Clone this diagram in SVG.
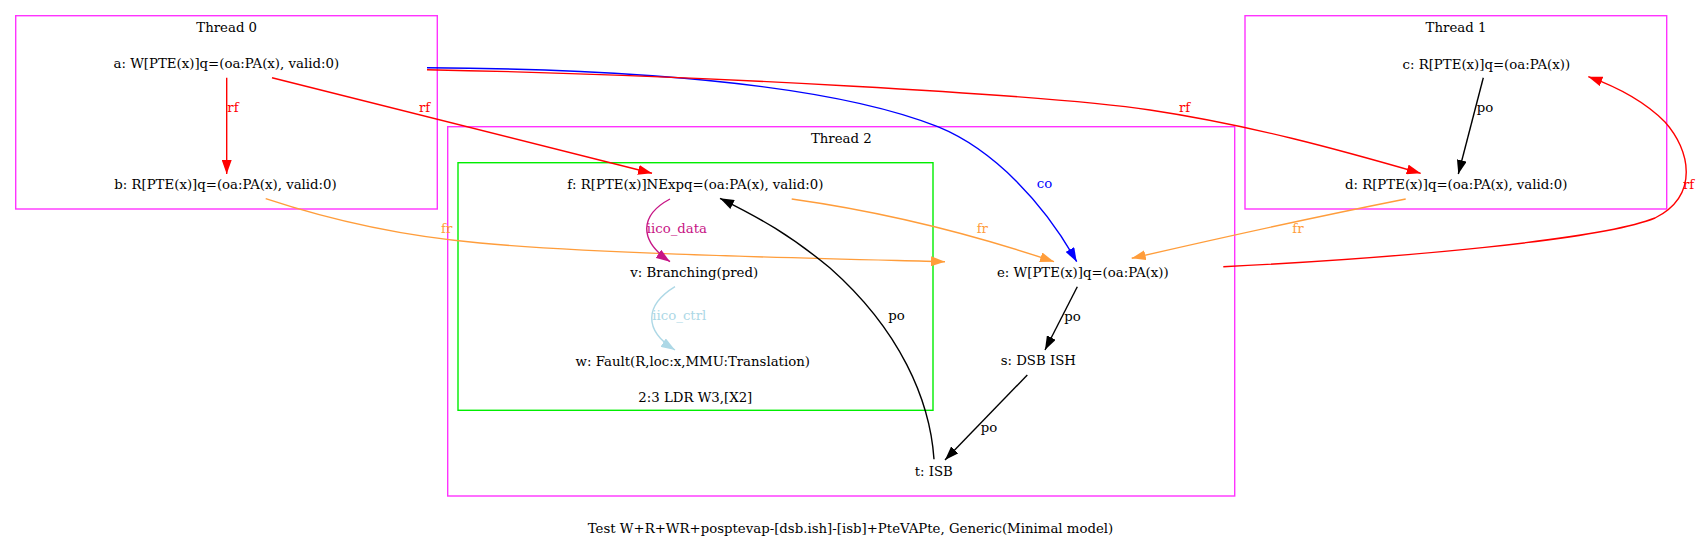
<svg xmlns="http://www.w3.org/2000/svg" width="1701" height="537" viewBox="0 0 1701 537">
<style>
  text { font-family: "DejaVu Serif", "Liberation Serif", serif; font-size: 13.3px; fill: #000; }
  .lbl { text-anchor: middle; }
  .cluster { fill: none; stroke: #ff33ff; stroke-width: 1.4; }
  .instr { fill: none; stroke: #00ee00; stroke-width: 1.4; }
  .e { fill: none; stroke-width: 1.4; }
  .red { stroke: #ff0000; } .black { stroke: #000; } .blue { stroke: #0000ff; }
  .orange { stroke: #ff9d3b; } .mvr { stroke: #c71585; } .lb { stroke: #add8e6; }
  .tred { fill: #ff0000; } .tblue { fill: #0000ff; } .torange { fill: #ff9d3b; }
  .tmvr { fill: #c71585; } .tlb { fill: #add8e6; }
</style>
<defs>
  <marker id="ah-red" viewBox="0 0 14 10" refX="14" refY="5" markerWidth="14" markerHeight="10" markerUnits="userSpaceOnUse" orient="auto"><path d="M0,0 L14,5 L0,10 z" fill="#ff0000"/></marker>
  <marker id="ah-black" viewBox="0 0 14 10" refX="14" refY="5" markerWidth="14" markerHeight="10" markerUnits="userSpaceOnUse" orient="auto"><path d="M0,0 L14,5 L0,10 z" fill="#000"/></marker>
  <marker id="ah-blue" viewBox="0 0 14 10" refX="14" refY="5" markerWidth="14" markerHeight="10" markerUnits="userSpaceOnUse" orient="auto"><path d="M0,0 L14,5 L0,10 z" fill="#0000ff"/></marker>
  <marker id="ah-orange" viewBox="0 0 14 10" refX="14" refY="5" markerWidth="14" markerHeight="10" markerUnits="userSpaceOnUse" orient="auto"><path d="M0,0 L14,5 L0,10 z" fill="#ff9d3b"/></marker>
  <marker id="ah-mvr" viewBox="0 0 14 10" refX="14" refY="5" markerWidth="14" markerHeight="10" markerUnits="userSpaceOnUse" orient="auto"><path d="M0,0 L14,5 L0,10 z" fill="#c71585"/></marker>
  <marker id="ah-lb" viewBox="0 0 14 10" refX="14" refY="5" markerWidth="14" markerHeight="10" markerUnits="userSpaceOnUse" orient="auto"><path d="M0,0 L14,5 L0,10 z" fill="#add8e6"/></marker>
</defs>
<rect width="1701" height="537" fill="#fff"/>

<g id="clusters">
  <g id="thread0"><rect class="cluster" x="15.7" y="15.7" width="421.6" height="193.3"/><text class="lbl" x="226.7" y="32">Thread 0</text></g>
  <g id="thread1"><rect class="cluster" x="1245" y="15.7" width="421.7" height="193.3"/><text class="lbl" x="1456" y="32">Thread 1</text></g>
  <g id="thread2"><rect class="cluster" x="447.7" y="126.7" width="787" height="369.3"/><text class="lbl" x="841.3" y="142.7">Thread 2</text></g>
  <g id="instr23"><rect class="instr" x="458" y="162.7" width="475" height="247.6"/><text class="lbl" x="695.3" y="401.7">2:3 LDR W3,[X2]</text></g>
</g>

<g id="nodes">
  <g id="node-a"><text class="lbl" x="226.3" y="67.5">a: W[PTE(x)]q=(oa:PA(x), valid:0)</text></g>
  <g id="node-b"><text class="lbl" x="225.5" y="189">b: R[PTE(x)]q=(oa:PA(x), valid:0)</text></g>
  <g id="node-c"><text class="lbl" x="1486.3" y="68.5">c: R[PTE(x)]q=(oa:PA(x))</text></g>
  <g id="node-d"><text class="lbl" x="1456.2" y="189">d: R[PTE(x)]q=(oa:PA(x), valid:0)</text></g>
  <g id="node-f"><text class="lbl" x="695.3" y="189">f: R[PTE(x)]NExpq=(oa:PA(x), valid:0)</text></g>
  <g id="node-v"><text class="lbl" x="694.2" y="277.3">v: Branching(pred)</text></g>
  <g id="node-w"><text class="lbl" x="692.8" y="365.7">w: Fault(R,loc:x,MMU:Translation)</text></g>
  <g id="node-e"><text class="lbl" x="1082.8" y="277.3">e: W[PTE(x)]q=(oa:PA(x))</text></g>
  <g id="node-s"><text class="lbl" x="1038.3" y="365">s: DSB ISH</text></g>
  <g id="node-t"><text class="lbl" x="933.8" y="476">t: ISB</text></g>
</g>

<g id="connectors">
  <path class="e red" d="M226.7,77.7 L226.7,174" marker-end="url(#ah-red)"/>
  <text class="tred" x="227.3" y="111.7">rf</text>

  <path class="e red" d="M272,77.7 L652,173.3" marker-end="url(#ah-red)"/>
  <text class="tred" x="419" y="111.7">rf</text>

  <path class="e blue" d="M427,67.7 C600,69 820,80 937.7,126.7 C995,150 1045,205 1076.7,261.7" marker-end="url(#ah-blue)"/>
  <text class="tblue" x="1036.7" y="188.3">co</text>

  <path class="e red" d="M427,69.7 C700,75 1050,95 1150,110 C1250,125 1340,150 1420.7,173.3" marker-end="url(#ah-red)"/>
  <text class="tred" x="1179" y="111.7">rf</text>

  <path class="e black" d="M1483.3,77.7 L1458.3,174" marker-end="url(#ah-black)"/>
  <text x="1476.7" y="111.7">po</text>

  <path class="e orange" d="M265.7,198.7 C330,220 400,236 480,243 C600,254 800,258 945,261.7" marker-end="url(#ah-orange)"/>
  <text class="torange" x="441" y="232.7">fr</text>

  <path class="e orange" d="M791.7,199 C870,210 960,230 1054,261.7" marker-end="url(#ah-orange)"/>
  <text class="torange" x="976.7" y="232.7">fr</text>

  <path class="e orange" d="M1405.7,199 C1330,214 1220,238 1131.7,258.3" marker-end="url(#ah-orange)"/>
  <text class="torange" x="1292.3" y="232.7">fr</text>

  <path class="e mvr" d="M670,199 C640,215 638,240 670,261.7" marker-end="url(#ah-mvr)"/>
  <text class="tmvr" x="646.7" y="232.7">iico_data</text>

  <path class="e lb" d="M675,286.7 C645,305 643,330 675,350" marker-end="url(#ah-lb)"/>
  <text class="tlb" x="652.3" y="320">iico_ctrl</text>

  <path class="e black" d="M1077.3,286.7 L1045,350" marker-end="url(#ah-black)"/>
  <text x="1064.3" y="320.7">po</text>

  <path class="e black" d="M1027.3,375 L945,460" marker-end="url(#ah-black)"/>
  <text x="980.7" y="431.7">po</text>

  <path class="e black" d="M934,459.3 C930,400 900,330 830,268 C790,235 760,218 720,198.3" marker-end="url(#ah-black)"/>
  <text x="888.3" y="320">po</text>

  <path class="e red" d="M1223.3,266.7 C1400,258 1600,240 1655,218 C1700,195 1690,150 1665,122 C1645,102 1620,88 1588.3,76.7" marker-end="url(#ah-red)"/>
  <text class="tred" x="1683" y="189">rf</text>
</g>

<text class="lbl" x="850.5" y="533">Test W+R+WR+posptevap-[dsb.ish]-[isb]+PteVAPte, Generic(Minimal model)</text>
</svg>
